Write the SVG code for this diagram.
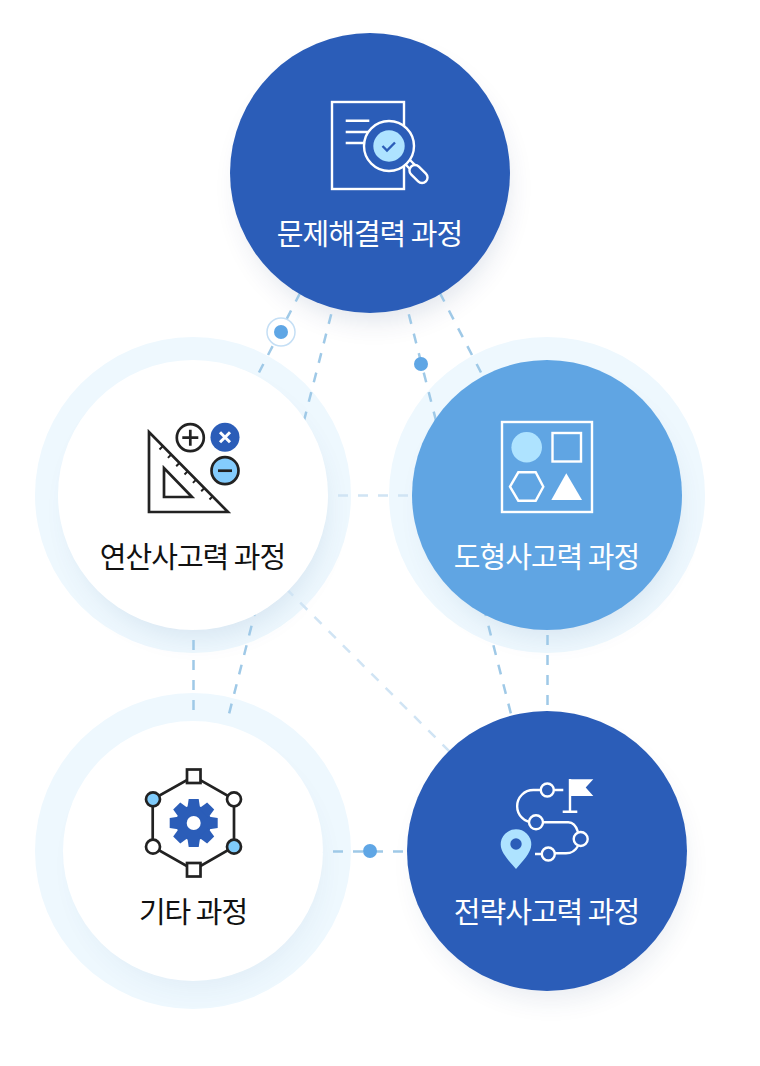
<svg xmlns="http://www.w3.org/2000/svg" width="760" height="1066" viewBox="0 0 760 1066">
<style>
text{font-family:"Noto Sans CJK KR","Noto Sans",sans-serif;font-size:29px;text-anchor:middle;letter-spacing:-1px}
.w{fill:#fff}.k{fill:#111}
.dash{fill:none;stroke:#9fc9e7;stroke-width:2.500;stroke-dasharray:10 10.100}
.pale{fill:none;stroke:#d0e4f4;stroke-width:2.500;stroke-dasharray:10 10.100}
.dot{fill:#5fa6e5}
.ring{fill:#eef8fe}
.wl{fill:none;stroke:#fff;stroke-width:2.400}
.kl{fill:none;stroke:#222;stroke-width:2.700}
.bw{fill:#2b5db8;stroke:#fff;stroke-width:2.400}
</style>
<defs>
<filter id="soft" x="-40%" y="-40%" width="180%" height="180%"><feGaussianBlur stdDeviation="14"/></filter>
</defs>
<rect width="760" height="1066" fill="#fff"/>
<g id="backdrop">
<circle class="ring" cx="193" cy="495" r="158"/>
<circle class="ring" cx="547" cy="495" r="158"/>
<circle class="ring" cx="193" cy="851" r="158"/>
<circle cx="374" cy="188" r="132" fill="#1e3a70" opacity=".14" filter="url(#soft)"/>
<circle cx="198" cy="511" r="125" fill="#27558f" opacity=".12" filter="url(#soft)"/>
<circle cx="552" cy="511" r="125" fill="#27558f" opacity=".12" filter="url(#soft)"/>
<circle cx="198" cy="866" r="120" fill="#27558f" opacity=".07" filter="url(#soft)"/>
<circle cx="551" cy="866" r="132" fill="#1e3a70" opacity=".1" filter="url(#soft)"/>
</g>
<g id="connectors">
<path class="dash" d="M300.300 292.600L259 372.500"/>
<path class="dash" d="M439.700 292.600L481 372.500"/>
<path class="dash" d="M331.200 314.200L228.500 716"/>
<path class="dash" d="M408.800 314.200L511.500 716"/>
<path class="dash" style="stroke-dasharray:10 10" d="M193.500 620V712"/>
<path class="dash" style="stroke-dasharray:10 10" d="M547.500 615V706"/>
<path class="dash" style="stroke-dasharray:10 10" d="M313 851.500H408"/>
<path class="pale" style="stroke-dasharray:10 10" d="M338 495.500H412"/>
<path class="pale" d="M286 588.500L452 754"/>
<circle cx="281" cy="332" r="14" fill="#fff" stroke="#c5dff5" stroke-width="1.500"/>
<circle class="dot" cx="281" cy="332" r="7"/>
<circle class="dot" cx="421" cy="364" r="7"/>
<circle class="dot" cx="370" cy="851" r="7"/>
</g>
<g id="node-problem">
<circle cx="370" cy="173" r="140" fill="#2b5db8"/>
<rect class="wl" x="332" y="102" width="72" height="87"/>
<path class="wl" d="M345.700 120.700H369.300M345.700 132H369.300M345.700 143H369.300"/>
<circle class="bw" cx="389" cy="146" r="25"/>
<circle cx="389" cy="146" r="15.700" fill="#aee3ff"/>
<path d="M382.500 146l4.500 4.500 8-8" fill="none" stroke="#2b5db8" stroke-width="2.400"/>
<path class="wl" d="M405 164l5 5M410 160l5 5"/>
<rect class="bw" x="408" y="168.500" width="21" height="11" rx="5.500" transform="rotate(45 418.500 174)"/>
<text class="w" x="369.500" y="245">문제해결력 과정</text>
</g>
<g id="node-arithmetic">
<circle cx="193" cy="495" r="135" fill="#fff"/>
<path class="kl" d="M149 432V512H228Z"/>
<path class="kl" d="M164 468V497H192Z"/>
<path fill="none" stroke="#222" stroke-width="2" d="M163 446l-3.500 3.500M171.400 454.400l-3.500 3.500M179.700 462.700l-3.500 3.500M188 471l-3.500 3.500M196.400 479.400l-3.500 3.500M204.700 487.700l-3.500 3.500M213 496l-3.500 3.500"/>
<circle class="kl" cx="190.300" cy="437.700" r="13.500" style="fill:#fff"/>
<path class="kl" d="M182.300 437.700h16M190.300 429.700v16"/>
<circle cx="225" cy="437.300" r="14.500" fill="#2b5db8"/>
<path d="M220 432.300l10 10M230 432.300l-10 10" stroke="#fff" stroke-width="3" fill="none"/>
<circle class="kl" cx="225" cy="470.700" r="13.500" style="fill:#84ccfd"/>
<path class="kl" d="M218 470.700h14"/>
<text class="k" x="192.500" y="568">연산사고력 과정</text>
</g>
<g id="node-shape">
<circle cx="547" cy="495" r="135" fill="#60a5e3"/>
<rect class="wl" x="502" y="422" width="90" height="90"/>
<circle cx="526.700" cy="447.300" r="15.300" fill="#aee3ff"/>
<rect class="wl" x="552.500" y="433" width="28.500" height="28.500"/>
<path class="wl" d="M510 486.700L518.300 472.300H535.700L543.300 486.700L535.700 500.700H518.300Z"/>
<path class="w" d="M566.300 473.300L582 500H551.300Z"/>
<text class="w" x="546.500" y="568">도형사고력 과정</text>
</g>
<g id="node-other">
<circle cx="193" cy="851" r="130" fill="#fff"/>
<path class="kl" d="M193.700 776.300L234 799.300V846.700L193.700 870L152.700 846.700V799.300Z"/>
<rect class="kl" x="187" y="769.500" width="13.500" height="13.500" style="fill:#fff"/>
<rect class="kl" x="187" y="863" width="13.500" height="13.500" style="fill:#fff"/>
<circle class="kl" cx="153" cy="799.300" r="7" style="fill:#7fcbfb"/>
<circle class="kl" cx="234" cy="799.300" r="7" style="fill:#fff"/>
<circle class="kl" cx="153" cy="846.700" r="7" style="fill:#fff"/>
<circle class="kl" cx="234" cy="846.700" r="7" style="fill:#7fcbfb"/>
<g fill="#2b5db8" transform="translate(193.700 823)">
<circle r="17.500"/>
<path d="M-5 -24H5L6.500 -14H-6.500Z"/>
<path d="M-5 -24H5L6.500 -14H-6.500Z" transform="rotate(45)"/>
<path d="M-5 -24H5L6.500 -14H-6.500Z" transform="rotate(90)"/>
<path d="M-5 -24H5L6.500 -14H-6.500Z" transform="rotate(135)"/>
<path d="M-5 -24H5L6.500 -14H-6.500Z" transform="rotate(180)"/>
<path d="M-5 -24H5L6.500 -14H-6.500Z" transform="rotate(225)"/>
<path d="M-5 -24H5L6.500 -14H-6.500Z" transform="rotate(270)"/>
<path d="M-5 -24H5L6.500 -14H-6.500Z" transform="rotate(315)"/>
<circle r="7" fill="#fff"/>
</g>
<text class="k" x="193" y="923">기타 과정</text>
</g>
<g id="node-strategy">
<circle cx="547" cy="851" r="140" fill="#2b5db8"/>
<path class="w" d="M569.300 779.300H593.300L585.700 787.500L593.300 796H571V811H569.300Z"/>
<path class="wl" d="M570 779V811.700M562.700 811.700H577.300"/>
<path class="wl" d="M553.500 790H563.300M541 790H533.300A16 16 0 0 0 533.300 822.300H568.300Q575 822.300 578 832M578 846Q574 853.300 566 853.300H555M542 854H535"/>
<circle class="bw" cx="547.300" cy="790" r="6.500"/>
<circle class="bw" cx="536" cy="822.300" r="7"/>
<circle class="bw" cx="580.700" cy="839" r="7"/>
<circle class="bw" cx="548.300" cy="854" r="6.500"/>
<path d="M516 829.300A15.300 15.300 0 0 1 531.300 844.600C531.300 853 522 862 516 869C510 862 500.700 853 500.700 844.600A15.300 15.300 0 0 1 516 829.300Z" fill="#aee3ff"/>
<circle cx="516" cy="844" r="5.700" fill="#2b5db8"/>
<text class="w" x="546.500" y="923">전략사고력 과정</text>
</g>
</svg>
